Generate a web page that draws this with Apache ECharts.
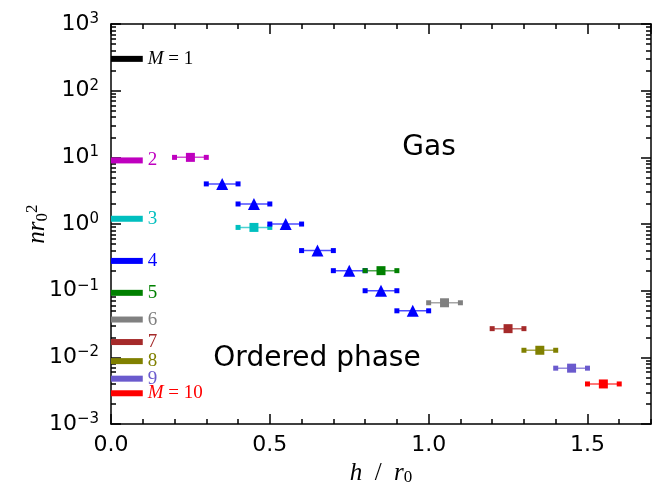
<!DOCTYPE html>
<html>
<head>
<meta charset="utf-8">
<script src="https://cdn.jsdelivr.net/npm/echarts@6/dist/echarts.min.js"></script>
<style>
  html, body { margin: 0; padding: 0; background: #fff; }
  #chart { width: 652px; height: 491px; }
</style>
</head>
<body>
<div id="chart"></div>
<script>
// reference levels for each M, drawn as short bars at h = 0 .. 0.1
const levelNames = ['M = 1', '2', '3', '4', '5', '6', '7', '8', '9', 'M = 10']
const levelDensity = [300, 9, 1.2, 0.28, 0.093, 0.037, 0.017, 0.0088, 0.0048, 0.0029]
const levelBarH = [0, 0.1]
const levelColors = ['#000000', '#bf00bf', '#00bfbf', '#0000ff', '#008000',
  '#808080', '#a52a2a', '#808000', '#6a5acd', '#ff0000']

// measured transitions: bin centre, bin edges, density, and which M
const pointH = [0.25, 0.35, 0.45, 0.45, 0.55, 0.65, 0.75, 0.85, 0.85, 0.95, 1.05, 1.25, 1.35, 1.45, 1.55]
const pointHLow = [0.2, 0.3, 0.4, 0.4, 0.5, 0.6, 0.7, 0.8, 0.8, 0.9, 1.0, 1.2, 1.3, 1.4, 1.5]
const pointHHigh = [0.3, 0.4, 0.5, 0.5, 0.6, 0.7, 0.8, 0.9, 0.9, 1.0, 1.1, 1.3, 1.4, 1.5, 1.6]
const pointDensity = [10, 4.0, 2.0, 0.89, 1.0, 0.40, 0.20, 0.20, 0.10, 0.050, 0.066, 0.027, 0.0128, 0.0069, 0.0040]
const pointM = [2, 4, 4, 3, 4, 4, 4, 5, 4, 4, 6, 7, 8, 9, 10]

// axes
const xMin = 0
const xMax = 1.7
const yDecades = [-3, -2, -1, 0, 1, 2, 3]

const yMinorTicks = []
for (let d = -3; d < 3; d++) {
  for (let k = 2; k <= 9; k++) yMinorTicks.push(d + Math.log10(k))
}

const tickFont = 'DejaVu Sans'
const mathFont = 'Liberation Serif'
const black = '#000'

const chartDom = document.getElementById('chart')
const chart = echarts.init(chartDom, null, { renderer: 'canvas' })

function xAxisDef(position, major) {
  return {
    type: 'value',
    position,
    min: xMin,
    max: xMax,
    interval: major ? 0.5 : 0.1,
    axisLine: { show: major, onZero: false, lineStyle: { color: black, width: 1.5 } },
    axisTick: { show: true, inside: true, length: major ? 10 : 5, lineStyle: { color: black, width: 1.5 } },
    axisLabel: {
      show: major && position === 'bottom',
      margin: 10,
      color: black,
      fontFamily: tickFont,
      fontSize: 22,
      showMaxLabel: false,
      formatter: (v) => v.toFixed(1),
    },
    splitLine: { show: false },
  }
}

function yMinorDef(position) {
  return {
    type: 'value',
    position,
    min: -3,
    max: 3,
    axisLine: { show: false, onZero: false },
    axisTick: { show: true, inside: true, length: 5, customValues: yMinorTicks, lineStyle: { color: black, width: 1.5 } },
    axisLabel: { show: false },
    splitLine: { show: false },
  }
}

function yMajorDef(position) {
  return {
    type: 'value',
    position,
    min: -3,
    max: 3,
    axisLine: { show: true, onZero: false, lineStyle: { color: black, width: 1.5 } },
    axisTick: { show: true, inside: true, length: 10, customValues: yDecades, lineStyle: { color: black, width: 1.5 } },
    axisLabel: {
      show: position === 'left',
      customValues: yDecades,
      margin: 12,
      formatter: (v) => '{b|10}{s|' + (v < 0 ? '\u2212' + Math.abs(v) : v) + '}',
      rich: {
        b: { fontFamily: tickFont, fontSize: 22, color: black },
        s: { fontFamily: tickFont, fontSize: 15, color: black, verticalAlign: 'top', padding: [0, 0, 10, 0] },
      },
    },
    splitLine: { show: false },
  }
}

const levelSeries = levelDensity.map((v, i) => ({
  type: 'line',
  xAxisIndex: 0,
  yAxisIndex: 0,
  data: levelBarH.map((h) => [h, v]),
  symbol: 'none',
  silent: true,
  z: 3,
  lineStyle: { color: levelColors[i], width: 6 },
  endLabel: {
    show: true,
    distance: 5,
    formatter: () => {
      const name = levelNames[i]
      if (name.startsWith('M')) return '{i|M}{t|' + name.slice(1) + '}'
      return '{t|' + name + '}'
    },
    rich: {
      i: { fontFamily: mathFont, fontStyle: 'italic', fontSize: 19, color: levelColors[i] },
      t: { fontFamily: mathFont, fontSize: 19, color: levelColors[i] },
    },
  },
}))

const pointSeries = pointH.map((h, i) => {
  const color = levelColors[pointM[i] - 1]
  const centreSymbol = pointM[i] === 4 ? 'triangle' : 'rect'
  const centreSize = pointM[i] === 4 ? 12 : 9
  return {
    type: 'line',
    xAxisIndex: 0,
    yAxisIndex: 0,
    silent: true,
    z: 4,
    showSymbol: true,
    showAllSymbol: true,
    lineStyle: { color, width: 1.5, opacity: 0.7 },
    itemStyle: { color, borderColor: color, borderWidth: 0 },
    data: [
      { value: [pointHLow[i], pointDensity[i]], symbol: 'rect', symbolSize: 5 },
      { value: [h, pointDensity[i]], symbol: centreSymbol, symbolSize: centreSize },
      { value: [pointHHigh[i], pointDensity[i]], symbol: 'rect', symbolSize: 5 },
    ],
  }
})

const option = {
  animation: false,
  backgroundColor: '#fff',
  grid: { left: 111, right: 1, top: 24, bottom: 65, containLabel: false },
  xAxis: [
    Object.assign(xAxisDef('bottom', true), {
      name: '{i|h}{t|  /  }{i|r}{sb|0}',
      nameLocation: 'middle',
      nameGap: 32,
      nameTextStyle: {
        rich: {
          i: { fontFamily: mathFont, fontStyle: 'italic', fontSize: 25, color: black },
          t: { fontFamily: mathFont, fontSize: 25, color: black },
          sb: { fontFamily: mathFont, fontSize: 17, color: black, verticalAlign: 'bottom', padding: [8, 0, 0, 0] },
        },
      },
    }),
    xAxisDef('bottom', false),
    xAxisDef('top', true),
    xAxisDef('top', false),
  ],
  yAxis: [
    {
      type: 'log',
      logBase: 10,
      min: 0.001,
      max: 1000,
      position: 'left',
      axisLine: { show: false, onZero: false },
      axisTick: { show: false },
      axisLabel: { show: false },
      splitLine: { show: false },
      name: '{i|nr}{sb|0}{sp|2}',
      nameLocation: 'middle',
      nameGap: 60,
      nameRotate: 90,
      nameTextStyle: {
        rich: {
          i: { fontFamily: mathFont, fontStyle: 'italic', fontSize: 25, color: black },
          sb: { fontFamily: mathFont, fontSize: 17, color: black, verticalAlign: 'bottom', padding: [8, 0, 0, 0] },
          sp: { fontFamily: mathFont, fontSize: 17, color: black, verticalAlign: 'top', padding: [0, 0, 10, 0] },
        },
      },
    },
    yMajorDef('left'),
    yMinorDef('left'),
    yMajorDef('right'),
    yMinorDef('right'),
  ],
  graphic: [
    {
      type: 'text',
      x: 429,
      y: 148,
      style: { text: 'Gas', font: '28px "DejaVu Sans"', fill: black, align: 'center', verticalAlign: 'middle' },
    },
    {
      type: 'text',
      x: 317,
      y: 359,
      style: { text: 'Ordered phase', font: '28px "DejaVu Sans"', fill: black, align: 'center', verticalAlign: 'middle' },
    },
  ],
  series: [...levelSeries, ...pointSeries],
}

chart.setOption(option)
window.addEventListener('resize', () => chart.resize())
</script>
</body>
</html>
